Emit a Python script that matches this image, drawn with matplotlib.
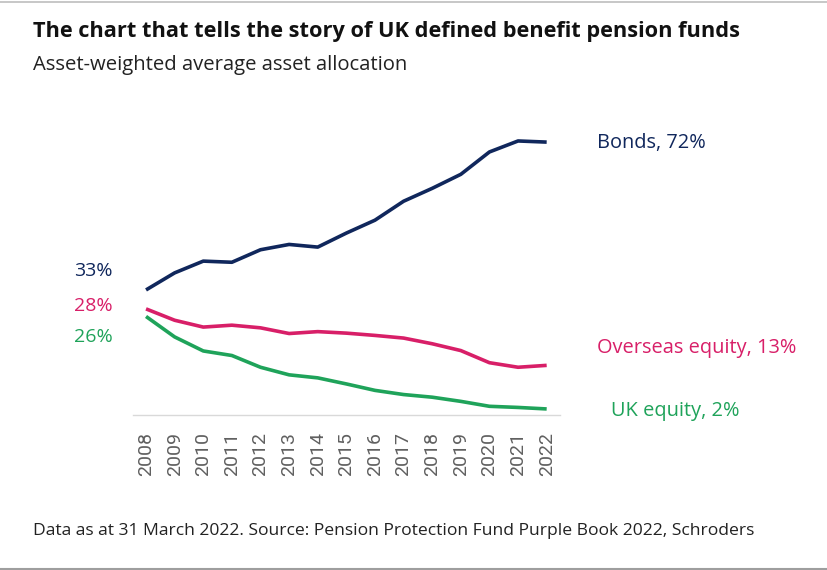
import matplotlib
matplotlib.use("Agg")
import matplotlib.pyplot as plt
from matplotlib.lines import Line2D

years = list(range(2008, 2023))
bonds = [33, 37.5, 40.6, 40.3, 43.6, 45.0, 44.3, 48.0, 51.4, 56.4, 59.8, 63.5, 69.4, 72.3, 72]
overseas_eq = [28, 25.0, 23.2, 23.7, 23.0, 21.5, 22.0, 21.6, 21.0, 20.3, 18.8, 17.0, 13.8, 12.6, 13.1]
uk_eq = [26, 20.6, 16.9, 15.7, 12.6, 10.6, 9.8, 8.2, 6.5, 5.4, 4.7, 3.6, 2.3, 2.0, 1.6]

start_labels = ["33%", "28%", "26%"]
end_labels = ["Bonds, 72%", "Overseas equity, 13%", "UK equity, 2%"]

NAVY = "#10275c"
PINK = "#d81f68"
GREEN = "#1fa35a"
LABEL_FONT = "Open Sans"

fig = plt.figure(figsize=(8.28, 5.70), dpi=100)
ax = fig.add_axes([0.1603, 0.2719, 0.516, 0.532])

series = [(bonds, NAVY), (overseas_eq, PINK), (uk_eq, GREEN)]
for vals, col in series:
    ax.plot(years, vals, color=col, lw=2.6, solid_capstyle="butt", solid_joinstyle="round")

ax.set_xlim(2007.535, 2022.465)
ax.set_ylim(0, 80)
ax.set_xticks(years)
ax.set_xticklabels([str(y) for y in years], rotation=90, fontsize=14,
                   color="#606060", family="Roboto")
ax.tick_params(axis="x", length=0, pad=12)
ax.set_yticks([])
for s in ["top", "right", "left"]:
    ax.spines[s].set_visible(False)
ax.spines["bottom"].set_color("#d9d9d9")
ax.spines["bottom"].set_linewidth(1.0)

# start-of-line labels (left)
start_offsets = [19, 3, -21]
for (vals, col), lab, dy in zip(series, start_labels, start_offsets):
    ax.annotate(lab, (years[0], vals[0]), xytext=(-33, dy), textcoords="offset pixels",
                ha="right", va="center", color=col, fontsize=14, family=LABEL_FONT)

# end-of-line labels (right)
end_offsets = [(50, -1), (50, 17), (64, -2)]
for (vals, col), lab, (dx, dy) in zip(series, end_labels, end_offsets):
    ax.annotate(lab, (years[-1], vals[-1]), xytext=(dx, dy), textcoords="offset pixels",
                ha="left", va="center", color=col, fontsize=14.4, family=LABEL_FONT)

fig.text(33 / 828, 1 - 32 / 570, "The chart that tells the story of UK defined benefit pension funds",
         fontsize=15.7, fontweight="bold", family=LABEL_FONT, color="#111111", va="center")
fig.text(33 / 828, 1 - 65 / 570, "Asset-weighted average asset allocation",
         fontsize=14.6, family=LABEL_FONT, color="#222222", va="center")
fig.text(33 / 828, 1 - 531 / 570,
         "Data as at 31 March 2022. Source: Pension Protection Fund Purple Book 2022, Schroders",
         fontsize=12.6, family=LABEL_FONT, color="#222222", va="center")

# thin grey rules at the top and bottom edges
fig.add_artist(Line2D([0, 1], [1 - 1.5 / 570] * 2, color="#bdbdbd", lw=1.2))
fig.add_artist(Line2D([0, 1], [1.5 / 570] * 2, color="#9e9e9e", lw=1.5))

fig.savefig("out.png", dpi=100)
